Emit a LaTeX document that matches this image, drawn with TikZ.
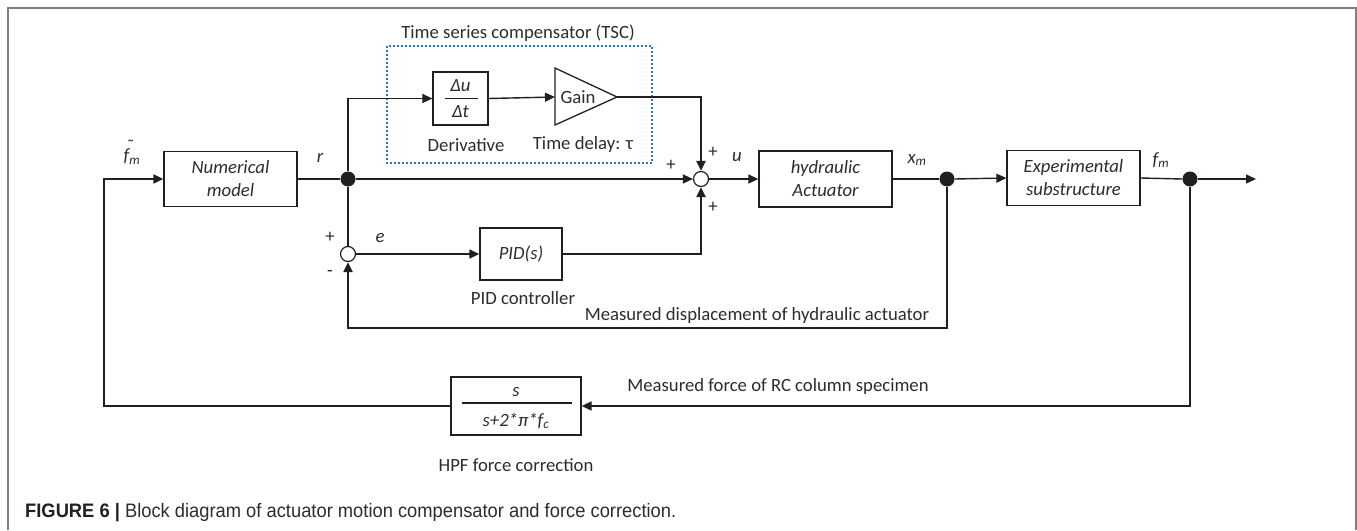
\documentclass[tikz,border=0pt]{standalone}
\usepackage{fontspec}
\setmainfont{Carlito}
\newfontfamily\capfont[FakeStretch=0.94]{Liberation Sans}
\usetikzlibrary{arrows.meta,calc}
\definecolor{ln}{RGB}{35,31,32}
\definecolor{txt}{RGB}{45,45,45}
\definecolor{tscblue}{RGB}{46,117,182}
\definecolor{framegray}{RGB}{128,128,128}
\begin{document}
\begin{tikzpicture}[x=1pt,y=-1pt,
  every node/.style={text=txt},
  lbl/.style={inner sep=0pt, font=\fontsize{18.7}{23}\selectfont},
  ilbl/.style={lbl, font=\fontsize{18.7}{23}\selectfont\itshape},
  blk/.style={draw=ln, line width=1.3pt, inner sep=0pt, align=center, fill=white,
    font=\fontsize{18.7}{23}\selectfont\itshape},
  sig/.style={draw=ln, line width=1.4pt},
  thk/.style={draw=ln, line width=2pt},
  arr/.style={-{Triangle[length=10pt,width=9pt]}},
  dotn/.style={circle, fill=ln, inner sep=0pt, minimum size=15pt},
  sumn/.style={circle, draw=ln, fill=white, line width=1.2pt, inner sep=0pt, minimum size=15pt}]
\useasboundingbox (0,0) rectangle (1357,530);
\fill[white] (0,0) rectangle (1357,530);
\draw[framegray, line width=1.5pt] (8,530) -- (8,8) -- (1356,8) -- (1356,530);

% TSC dotted frame
\draw[tscblue, line width=2pt, dash pattern=on 2pt off 2pt] (387,46) rectangle (652,163);
\node[lbl] (tsctitle) at (518,33) {Time series compensator (TSC)};

% blocks
\node[blk, minimum width=133pt, minimum height=55pt] (nm) at (230.5,179) {Numerical\\model};
\node[blk, minimum width=55pt, minimum height=53pt] (der) at (460.5,98.5) {};
\node[ilbl] (du) at (460.5,86) {Δu};
\node[ilbl] (dt) at (460.5,112) {Δt};
\draw[ln, line width=1.6pt] ($(der.center)+(-16,0)$) -- ($(der.center)+(17,0)$);
\draw[ln, line width=1.3pt, fill=white] (555,68) -- (617,97) -- (555,125) -- cycle;
\coordinate (gin) at (555,97);
\coordinate (gout) at (617,97);
\node[lbl] (gaintxt) at (578,97) {Gain};
\node[lbl] (dername) at (466,145) {Derivative};
\node[lbl] (delay) at (583,145) {Time delay: τ};

\node[blk, minimum width=82pt, minimum height=52pt] (pid) at (521,254) {PID(s)};
\node[lbl] (pidname) at (523,298) {PID controller};

\node[blk, minimum width=133pt, minimum height=56pt] (act) at (825.5,179) {hydraulic\\Actuator};
\node[blk, minimum width=133pt, minimum height=55pt] (exp) at (1073.5,178) {Experimental\\substructure};

\node[blk, minimum width=130pt, minimum height=58pt] (hpf) at (516,406) {};
\node[ilbl] (hnum) at (516,392) {s};
\node[ilbl] (hden) at (516,421) {s+2*π*f\textsubscript{c}};
\draw[ln, line width=1.6pt] (462,403) -- (572,403);
\node[lbl] (hpfname) at (516,465) {HPF force correction};

% junctions
\node[dotn] (dot1) at (348,179) {};
\node[dotn] (dot2) at (947,179) {};
\node[dotn] (dot3) at (1190,179) {};
\node[sumn] (sum1) at (701,179) {};
\node[sumn] (sum2) at (348,254) {};
\coordinate (out) at (1256,179);
\coordinate (fbc) at (348,328);

% connectors
\draw[thk,arr] (hpf.west) -- (104,406) |- (nm.west);
\draw[sig] (nm.east) -- (dot1.west);
\draw[sig,arr] (dot1.east) -- (sum1.west);
\draw[sig,arr] (dot1.north) |- (der.west);
\draw[sig,arr] (der.east) -- (gin);
\draw[thk,arr] (gout) -| (sum1.north);
\draw[thk] (dot1.south) -- (sum2.north);
\draw[sig,arr] (sum2.east) -- (pid.west);
\draw[thk,arr] (pid.east) -| (sum1.south);
\draw[sig,arr] (sum1.east) -- (act.west);
\draw[sig] (act.east) -- (dot2.west);
\draw[sig,arr] (dot2.east) -- (exp.west);
\draw[sig] (exp.east) -- (dot3.west);
\draw[sig,arr] (dot3.east) -- (out);
\draw[thk,arr] (dot2.south) |- (fbc) -- (sum2.south);
\draw[thk,arr] (dot3.south) |- (hpf.east);

% signal labels
\node[ilbl, align=left] (fmt) at (132,152) {\hspace{2pt}\symbol{"02DC}\\[-14pt]f\textsubscript{m}};
\node[ilbl] (rl) at (320,158) {r};
\node[ilbl] (el) at (380,238) {e};
\node[ilbl] (ul) at (737,157) {u};
\node[ilbl] (xml) at (917,160) {x\textsubscript{m}};
\node[ilbl] (fml) at (1161,160) {f\textsubscript{m}};
\node[lbl] (p1) at (330,237) {+};
\node[lbl] (m1) at (330,274) {-};
\node[lbl] (p2) at (671,165) {+};
\node[lbl] (p3) at (713,152) {+};
\node[lbl] (p4) at (713,207) {+};

\node[lbl] (disp) at (757,316) {Measured displacement of hydraulic actuator};
\node[lbl] (force) at (778,387) {Measured force of RC column specimen};

% caption
\node[anchor=west, inner sep=0pt, text=ln] (cap) at (25,513)
  {\capfont\fontsize{19.5}{22}\selectfont\textbf{FIGURE 6 |} \color{txt}Block diagram of actuator motion compensator and force correction.};
\end{tikzpicture}
\end{document}
